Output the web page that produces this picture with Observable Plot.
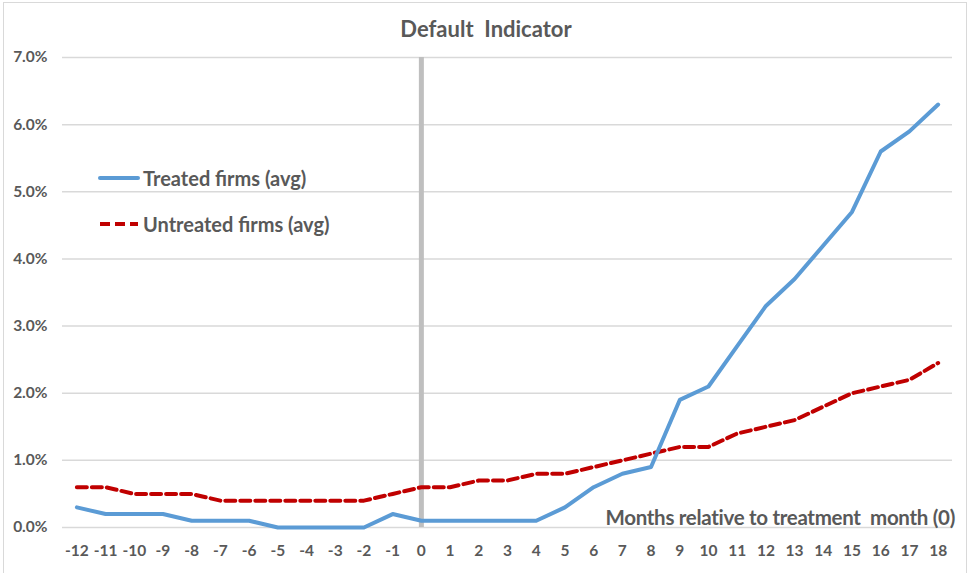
<!DOCTYPE html>
<html>
<head>
<meta charset="utf-8">
<script src="https://cdn.jsdelivr.net/npm/d3@7"></script>
<script src="https://cdn.jsdelivr.net/npm/@observablehq/plot@0.6"></script>
<style>
  html, body { margin: 0; padding: 0; background: #fff; }
  #wrap { position: relative; width: 969px; height: 573px; overflow: hidden; font-family: Lato, "Open Sans", sans-serif; }
  #frame { position: absolute; left: 3px; top: 2px; width: 964px; height: 600px; border: 1px solid #d9d9d9; box-sizing: border-box; pointer-events: none; }
  .lbl { position: absolute; color: #595959; font-weight: bold; white-space: pre; line-height: 1; }
  #title { left: 0; width: 972px; text-align: center; top: 18px; font-size: 22px; }
  #xlabel { right: 14px; top: 507px; font-size: 20.5px; letter-spacing: -0.3px; }
  .leg { position: absolute; display: flex; align-items: center; color: #595959; font-size: 20px; font-weight: bold; line-height: 1; }
  .leg svg { margin-right: 3px; }
  #chart { position: absolute; left: 0; top: 0; }
</style>
</head>
<body>
<div id="wrap">
  <div id="chart"></div>
  <div id="frame"></div>
  <div class="lbl" id="title">Default  Indicator</div>
  <div class="lbl" id="xlabel">Months relative to treatment  month (0)</div>
  <div class="leg" id="leg1" style="left:98px; top:168px;"></div>
  <div class="leg" id="leg2" style="left:98px; top:214px;"></div>
</div>
<script>
const months = [-12,-11,-10,-9,-8,-7,-6,-5,-4,-3,-2,-1,0,1,2,3,4,5,6,7,8,9,10,11,12,13,14,15,16,17,18];
const treated = [0.3,0.2,0.2,0.2,0.1,0.1,0.1,0.0,0.0,0.0,0.0,0.2,0.1,0.1,0.1,0.1,0.1,0.3,0.6,0.8,0.9,1.9,2.1,2.7,3.3,3.7,4.2,4.7,5.6,5.9,6.3];
const untreated = [0.6,0.6,0.5,0.5,0.5,0.4,0.4,0.4,0.4,0.4,0.4,0.5,0.6,0.6,0.7,0.7,0.8,0.8,0.9,1.0,1.1,1.2,1.2,1.4,1.5,1.6,1.8,2.0,2.1,2.2,2.45];
const yTicks = [0,1,2,3,4,5,6,7];
const seriesNames = ["Treated firms (avg)", "Untreated firms (avg)"];
const treatmentMonth = 0;

const blue = "#5b9bd5", red = "#c00000", grid = "#d9d9d9", textCol = "#595959";

const tData = months.map((m, i) => ({m, v: treated[i]}));
const uData = months.map((m, i) => ({m, v: untreated[i]}));

const chart = Plot.plot({
  width: 969,
  height: 573,
  marginLeft: 62,
  marginRight: 17,
  marginTop: 57,
  marginBottom: 46,
  style: {fontFamily: "Lato, 'Open Sans', sans-serif", fontSize: "15.5px", fontWeight: "bold", color: textCol, background: "transparent"},
  x: {domain: [-12.5, 18.5], ticks: months, tickFormat: d => String(d), tickSize: 0, tickPadding: 17, label: null},
  y: {domain: [0, 7], ticks: yTicks, tickFormat: d => d.toFixed(1) + "%", tickSize: 0, tickPadding: 15, label: null},
  marks: [
    Plot.gridY(yTicks, {stroke: grid, strokeOpacity: 1, strokeWidth: 1.5}),
    Plot.ruleX([treatmentMonth], {y1: 0, y2: 7, stroke: "#bfbfbf", strokeWidth: 5}),
    Plot.line(uData, {x: "m", y: "v", stroke: red, strokeWidth: 4, strokeDasharray: "10,5", strokeLinejoin: "round"}),
    Plot.line(tData, {x: "m", y: "v", stroke: blue, strokeWidth: 4, strokeLinejoin: "round", strokeLinecap: "round"})
  ]
});
document.getElementById("chart").appendChild(chart);

function legSwatch(color, dash) {
  return `<svg width="42" height="10"><line x1="2" y1="5" x2="40" y2="5" stroke="${color}" stroke-width="4" ${dash ? 'stroke-dasharray="10,5"' : 'stroke-linecap="round"'}/></svg>`;
}
document.getElementById("leg1").innerHTML = legSwatch(blue, false) + `<span>${seriesNames[0]}</span>`;
document.getElementById("leg2").innerHTML = legSwatch(red, true) + `<span>${seriesNames[1]}</span>`;
</script>
</body>
</html>
